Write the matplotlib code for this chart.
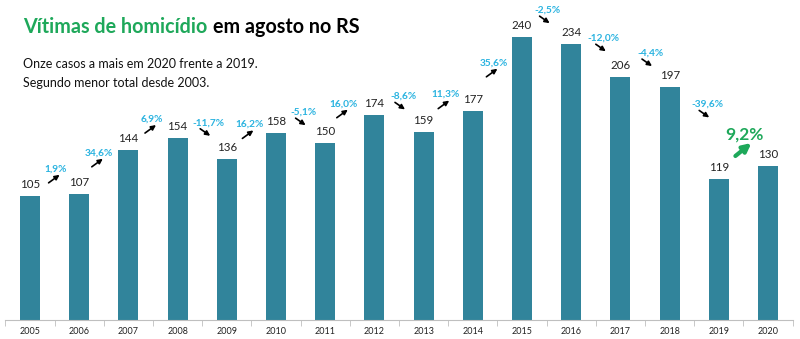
import matplotlib.pyplot as plt
from matplotlib.transforms import offset_copy

plt.rcParams['font.family'] = ['Lato', 'DejaVu Sans']

anos = [2005, 2006, 2007, 2008, 2009, 2010, 2011, 2012,
        2013, 2014, 2015, 2016, 2017, 2018, 2019, 2020]
vitimas = [105, 107, 144, 154, 136, 158, 150, 174,
           159, 177, 240, 234, 206, 197, 119, 130]

# deslocamento (pixels) de cada rótulo de variação em relação ao meio das duas barras
desloc_x = [1, -5, -1, 6, -2, 3, -6, 4, -3, -4, 1, 8, 5, 13, 1]
desloc_y = [26, 19, 25, 26, 22, 26, 25, 27, 27, 11, 30, 22, 29, 29, 38]

cor_barra = '#31849b'
cor_pct = '#2ab3e0'
cor_verde = '#1ea85a'

fig = plt.figure(figsize=(8, 3.39), dpi=100)
ax = fig.add_axes([5.4 / 800, 19 / 339, 787.2 / 800, 320 / 339])

x = list(range(len(anos)))
ax.bar(x, vitimas, width=0.41, color=cor_barra)
ax.set_xlim(-0.5, len(anos) - 0.5)
ax.set_ylim(0, 271)

for s in ['top', 'right', 'left']:
    ax.spines[s].set_visible(False)
ax.spines['bottom'].set_color('#bfbfbf')
ax.set_yticks([])
ax.set_xticks(x)
ax.set_xticklabels([str(a) for a in anos], fontsize=6.5, color='#222222')
ax.set_xticks([i - 0.5 for i in range(len(anos) + 1)], minor=True)
ax.tick_params(axis='x', which='major', length=0, pad=5)
ax.tick_params(axis='x', which='minor', length=4, color='#bfbfbf')

# total sobre cada barra
for i, v in enumerate(vitimas):
    ax.annotate(str(v), (i, v), xytext=(0, 6), textcoords='offset pixels',
                ha='center', va='bottom', fontsize=8.3, color='#222222')

# variação anual com seta
for i in range(1, len(vitimas)):
    ant, atual = vitimas[i - 1], vitimas[i]
    pct = (atual / ant - 1) * 100
    texto = f'{pct:.1f}%'.replace('.', ',')
    meio_x = i - 0.5
    meio_y = (ant + atual) / 2
    dx, dy = desloc_x[i - 1], desloc_y[i - 1]
    ultimo = i == len(vitimas) - 1
    ax.annotate(texto, (meio_x, meio_y), xytext=(dx, dy), textcoords='offset pixels',
                ha='center', va='center', fontweight='bold',
                fontsize=12.5 if ultimo else 7.3,
                color=cor_verde if ultimo else cor_pct)
    if ultimo:
        ini, fim = (-9, -21), (7, -8)
        props = dict(arrowstyle='-|>', color=cor_verde, lw=3, mutation_scale=12,
                     shrinkA=0, shrinkB=0)
    elif pct >= 0:
        ini, fim = (-7, -14), (4, -6)
        props = dict(arrowstyle='-|>', color='black', lw=1.2, mutation_scale=7,
                     shrinkA=0, shrinkB=0)
    else:
        ini, fim = (-8, -6), (2, -13)
        props = dict(arrowstyle='-|>', color='black', lw=1.2, mutation_scale=7,
                     shrinkA=0, shrinkB=0)
    t_ini = offset_copy(ax.transData, fig=fig, x=dx + ini[0], y=dy + ini[1], units='dots')
    t_fim = offset_copy(ax.transData, fig=fig, x=dx + fim[0], y=dy + fim[1], units='dots')
    ax.annotate('', xy=(meio_x, meio_y), xycoords=t_fim,
                xytext=(meio_x, meio_y), textcoords=t_ini, arrowprops=props)

# título em duas cores: a segunda parte começa onde a primeira termina
t1 = fig.text(23 / 800, 1 - 27 / 339, 'Vítimas de homicídio', color=cor_verde,
              fontsize=14.2, fontweight='bold', va='center')
fig.canvas.draw()
fim_t1 = t1.get_window_extent().x1
fig.text((fim_t1 + 6) / 800, 1 - 27 / 339, 'em agosto no RS', color='black',
         fontsize=14.2, fontweight='bold', va='center')
fig.text(23 / 800, 1 - 64 / 339, 'Onze casos a mais em 2020 frente a 2019.',
         fontsize=9, color='#111111', va='center')
fig.text(23 / 800, 1 - 83 / 339, 'Segundo menor total desde 2003.',
         fontsize=9, color='#111111', va='center')

fig.savefig('out.png', dpi=100)
